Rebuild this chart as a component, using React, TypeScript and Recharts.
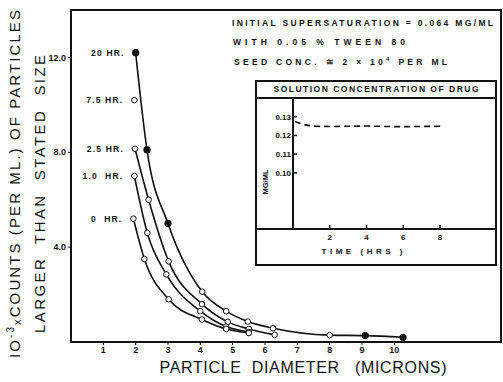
import { ComposedChart, LineChart, Line, Scatter, XAxis, YAxis, ReferenceArea } from "recharts"

const FONT = "'Liberation Sans', Arial, sans-serif"

// main plot: particle diameter (microns) vs 10^-3 x counts per ml larger than size
const diameterTicks = [1, 2, 3, 4, 5, 6, 7, 8, 9, 10]
const countTicks = [4, 8, 12]

// upper curve shared by the 20 hr / 7.5 hr points
const topCurveX = [2.0, 2.35, 3.0, 4.06, 4.8, 5.47, 6.25, 8.0, 9.1, 10.27]
const topCurveY = [12.2, 8.1, 5.0, 2.12, 1.3, 0.86, 0.58, 0.29, 0.27, 0.2]
const hr20X = [2.0, 2.35, 3.0, 9.1, 10.27]
const hr20Y = [12.2, 8.1, 5.0, 0.27, 0.2]
const hr75X = [1.96, 4.06, 4.8, 5.47, 6.25, 8.0]
const hr75Y = [10.2, 2.12, 1.3, 0.86, 0.58, 0.29]
const hr25X = [1.98, 2.4, 3.02, 4.05, 4.85, 5.5, 6.3]
const hr25Y = [8.15, 6.0, 3.4, 1.6, 0.85, 0.55, 0.3]
const hr10X = [1.96, 2.36, 2.95, 4.0, 4.8, 5.5]
const hr10Y = [7.0, 4.6, 2.85, 1.3, 0.65, 0.42]
const hr0X = [1.93, 2.27, 3.02, 4.05, 4.8, 5.5]
const hr0Y = [5.2, 3.5, 1.8, 0.95, 0.55, 0.38]

// inset: solution concentration of drug
const timeTicks = [2, 4, 6, 8]
const concTicks = [0.1, 0.11, 0.12, 0.13]
const timeHrs = [0.1, 0.6, 1.3, 2.0, 3.0, 4.0, 5.0, 6.0, 7.0, 8.2]
const concMgMl = [0.1275, 0.1258, 0.1249, 0.1248, 0.1249, 0.1250, 0.1248, 0.1247, 0.1248, 0.1249]

const zip = (xs: number[], ys: number[]) => xs.map((x, i) => ({ x, y: ys[i] }))

const seriesLabel = (cx: number, cy: number, text: string) => (
  <text x={cx - 11} y={cy} dy={3} textAnchor="end" fontSize={8.5} fontWeight="bold" letterSpacing={1.2} fontFamily={FONT} fill="#111" style={{ whiteSpace: "pre" }}>
    {text}
  </text>
)

const makeDot = (name: string | null, open: boolean) => (p: any) => {
  const { cx, cy, index } = p
  return (
    <g key={`d-${name}-${index}`}>
      {open && <circle cx={cx} cy={cy} r={2.8} fill="#fff" stroke="#111" strokeWidth={1} />}
      {name && index === 0 ? seriesLabel(cx, cy, name) : null}
    </g>
  )
}

const InsetYTick = (p: any) => (
  <g>
    <line x1={p.x} x2={p.x + 4} y1={p.y} y2={p.y} stroke="#111" strokeWidth={1.5} />
    <text x={p.x - 2} y={p.y} dy={3} textAnchor="end" fontSize={8} fontWeight="bold" fontFamily={FONT} fill="#111">
      {p.payload.value.toFixed(2)}
    </text>
  </g>
)

const InsetXTick = (p: any) => (
  <g>
    <line x1={p.x} x2={p.x} y1={p.y - 4} y2={p.y} stroke="#111" strokeWidth={1.5} />
    <text x={p.x} y={p.y + 11} textAnchor="middle" fontSize={8} fontWeight="bold" fontFamily={FONT} fill="#111">
      {p.payload.value}
    </text>
  </g>
)

export default function App() {
  const tickStyle = { fontSize: 9, fill: "#111", fontFamily: FONT, fontWeight: "bold" }
  return (
    <div style={{ position: "absolute", left: 0, top: 0, width: 503, height: 382, background: "#fff" }}>
      <ComposedChart width={503} height={382} margin={{ top: 10, right: 2, bottom: 0, left: 0 }}>
        <XAxis type="number" dataKey="x" domain={[0, 13.3]} ticks={diameterTicks} interval={0} height={40} allowDataOverflow
          axisLine={{ stroke: "#111", strokeWidth: 2 }} tickLine={{ stroke: "#111" }} tickSize={3} tick={tickStyle} />
        <YAxis type="number" dataKey="y" domain={[0, 14]} ticks={countTicks} interval={0} width={71} allowDataOverflow
          tickFormatter={(v: number) => v.toFixed(1)}
          axisLine={{ stroke: "#111", strokeWidth: 2 }} tickLine={{ stroke: "#111" }} tickSize={3} tick={tickStyle} />
        <ReferenceArea x1={0} x2={13.3} y1={0} y2={14} fill="none" stroke="#111" strokeWidth={2} />
        <Line data={zip(topCurveX, topCurveY)} dataKey="y" type="monotone" stroke="#111" strokeWidth={1.6} dot={makeDot("20 HR.", false)} isAnimationActive={false} />
        <Line data={zip(hr25X, hr25Y)} dataKey="y" type="monotone" stroke="#111" strokeWidth={1.6} dot={makeDot("2.5 HR.", true)} isAnimationActive={false} />
        <Line data={zip(hr10X, hr10Y)} dataKey="y" type="monotone" stroke="#111" strokeWidth={1.6} dot={makeDot("1.0  HR.", true)} isAnimationActive={false} />
        <Line data={zip(hr0X, hr0Y)} dataKey="y" type="monotone" stroke="#111" strokeWidth={1.6} dot={makeDot("0  HR.", true)} isAnimationActive={false} />
        <Scatter data={zip(hr75X, hr75Y)} dataKey="y" isAnimationActive={false}
          shape={(p: any) => (
            <g>
              <circle cx={p.cx} cy={p.cy} r={2.8} fill="#fff" stroke="#111" strokeWidth={1} />
              {p.payload.x === hr75X[0] ? seriesLabel(p.cx, p.cy, "7.5 HR.") : null}
            </g>
          )} />
        <Scatter data={zip(hr20X, hr20Y)} dataKey="y" isAnimationActive={false}
          shape={(p: any) => <circle cx={p.cx} cy={p.cy} r={3.6} fill="#111" />} />
      </ComposedChart>

      <svg width={503} height={382} style={{ position: "absolute", left: 0, top: 0, pointerEvents: "none" }}>
        <g fontFamily={FONT} fill="#111">
          <text x={0} y={0} transform="translate(20,184) rotate(-90)" textAnchor="middle" fontSize={15} textLength={348} lengthAdjust="spacing">
            IO<tspan fontSize={10} dy={-6}>-3</tspan><tspan fontSize={11} dy={7}>x</tspan><tspan dy={-1}>COUNTS  (PER ML.)  OF  PARTICLES</tspan>
          </text>
          <text x={0} y={0} transform="translate(45,194) rotate(-90)" textAnchor="middle" fontSize={15} textLength={278} lengthAdjust="spacing" style={{ whiteSpace: "pre" }}>
            LARGER  THAN  STATED  SIZE
          </text>
          <text x={303} y={373} textAnchor="middle" fontSize={16} textLength={287} lengthAdjust="spacing" style={{ whiteSpace: "pre" }}>
            PARTICLE  DIAMETER   (MICRONS)
          </text>
          <g fontSize={8.5} fontWeight="bold" style={{ whiteSpace: "pre" }}>
            <text x={232} y={26} textLength={261} lengthAdjust="spacing">INITIAL  SUPERSATURATION  =  0.064  MG/ML</text>
            <text x={233} y={45} textLength={172} lengthAdjust="spacing">WITH  0.05 %    TWEEN  80</text>
            <text x={234} y={65} textLength={213} lengthAdjust="spacing">
              SEED  CONC. ≅  2 × 10<tspan fontSize={6} dy={-4}>4</tspan><tspan dy={4}>    PER  ML</tspan>
            </text>
          </g>
        </g>
      </svg>

      <div style={{ position: "absolute", left: 255, top: 80, width: 242, height: 186, boxSizing: "border-box", border: "2px solid #111" }} />
      <div style={{ position: "absolute", left: 255, top: 97, width: 242, height: 0, borderTop: "2px solid #111" }} />
      <div style={{ position: "absolute", left: 255, top: 228, width: 242, height: 0, borderTop: "2px solid #111" }} />
      <div style={{ position: "absolute", left: 255, top: 80 }}>
        <LineChart width={242} height={186} margin={{ top: 18, right: 0, bottom: 0, left: 0 }}>
          <XAxis type="number" dataKey="x" domain={[0, 11.1]} ticks={timeTicks} interval={0} height={37} allowDataOverflow
            axisLine={false} tickLine={false} tickSize={0} tickMargin={0} tick={<InsetXTick />} />
          <YAxis type="number" dataKey="y" domain={[0.07, 0.14]} ticks={concTicks} interval={0} width={38} allowDataOverflow
            axisLine={{ stroke: "#111", strokeWidth: 2 }} tickLine={false} tickSize={0} tickMargin={0} tick={<InsetYTick />} />
          <Line data={zip(timeHrs, concMgMl)} dataKey="y" type="monotone" stroke="#111" strokeWidth={1.6} strokeDasharray="6 4" dot={false} isAnimationActive={false} />
        </LineChart>
        <svg width={242} height={186} style={{ position: "absolute", left: 0, top: 0, pointerEvents: "none" }}>
          <g fontFamily={FONT} fill="#111" fontWeight="bold" style={{ whiteSpace: "pre" }}>
            <text x={121} y={12} textAnchor="middle" fontSize={8.5} textLength={205} lengthAdjust="spacing">SOLUTION  CONCENTRATION  OF  DRUG</text>
            <text x={107} y={174} textAnchor="middle" fontSize={8} textLength={81} lengthAdjust="spacing">TIME     (HRS )</text>
            <text x={0} y={0} transform="translate(13,102) rotate(-90)" textAnchor="middle" fontSize={7.5}>MG/ML</text>
          </g>
        </svg>
      </div>
    </div>
  )
}
